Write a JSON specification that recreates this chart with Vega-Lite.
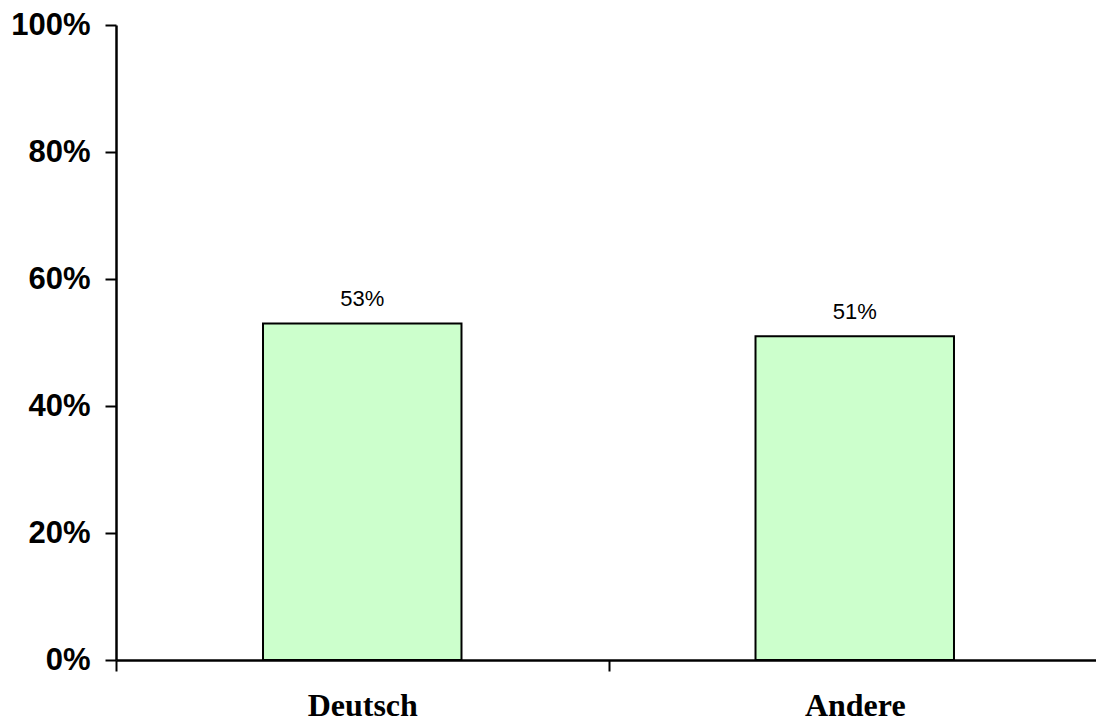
{
  "$schema": "https://vega.github.io/schema/vega-lite/v6.json",
  "autosize": {"type": "none"},
  "padding": {"left": 116, "top": 25, "right": 0, "bottom": 62},
  "width": 985,
  "height": 635,
  "background": "white",
  "config": {"view": {"stroke": null}},
  "data": {"values": [
    {"Sprache": "Deutsch", "Anteil": 0.53},
    {"Sprache": "Andere", "Anteil": 0.51}
  ]},
  "encoding": {
    "x": {
      "field": "Sprache", "type": "nominal", "sort": null,
      "scale": {"paddingInner": 0, "paddingOuter": 0},
      "axis": {
        "title": null, "labelAngle": 0, "tickBand": "extent",
        "domainColor": "black", "domainWidth": 2.5,
        "tickColor": "black", "tickWidth": 2, "tickSize": 11,
        "labelFont": "Liberation Serif", "labelFontWeight": "bold", "labelFontSize": 32,
        "labelColor": "black", "labelPadding": 19
      }
    },
    "y": {
      "field": "Anteil", "type": "quantitative",
      "scale": {"domain": [0, 1], "nice": false},
      "axis": {
        "title": null, "format": ".0%", "values": [0, 0.2, 0.4, 0.6, 0.8, 1],
        "grid": false,
        "domainColor": "black", "domainWidth": 2.5,
        "tickColor": "black", "tickWidth": 2, "tickSize": 11,
        "labelFont": "Liberation Sans", "labelFontWeight": "bold", "labelFontSize": 31,
        "labelColor": "black", "labelPadding": 15
      }
    }
  },
  "layer": [
    {"mark": {"type": "bar", "width": {"band": 0.403}, "fill": "#CCFFCC", "stroke": "black", "strokeWidth": 2}},
    {
      "mark": {"type": "text", "font": "Liberation Sans", "fontSize": 22, "color": "black", "baseline": "bottom", "dy": -12},
      "encoding": {"text": {"field": "Anteil", "type": "quantitative", "format": ".0%"}}
    }
  ]
}
